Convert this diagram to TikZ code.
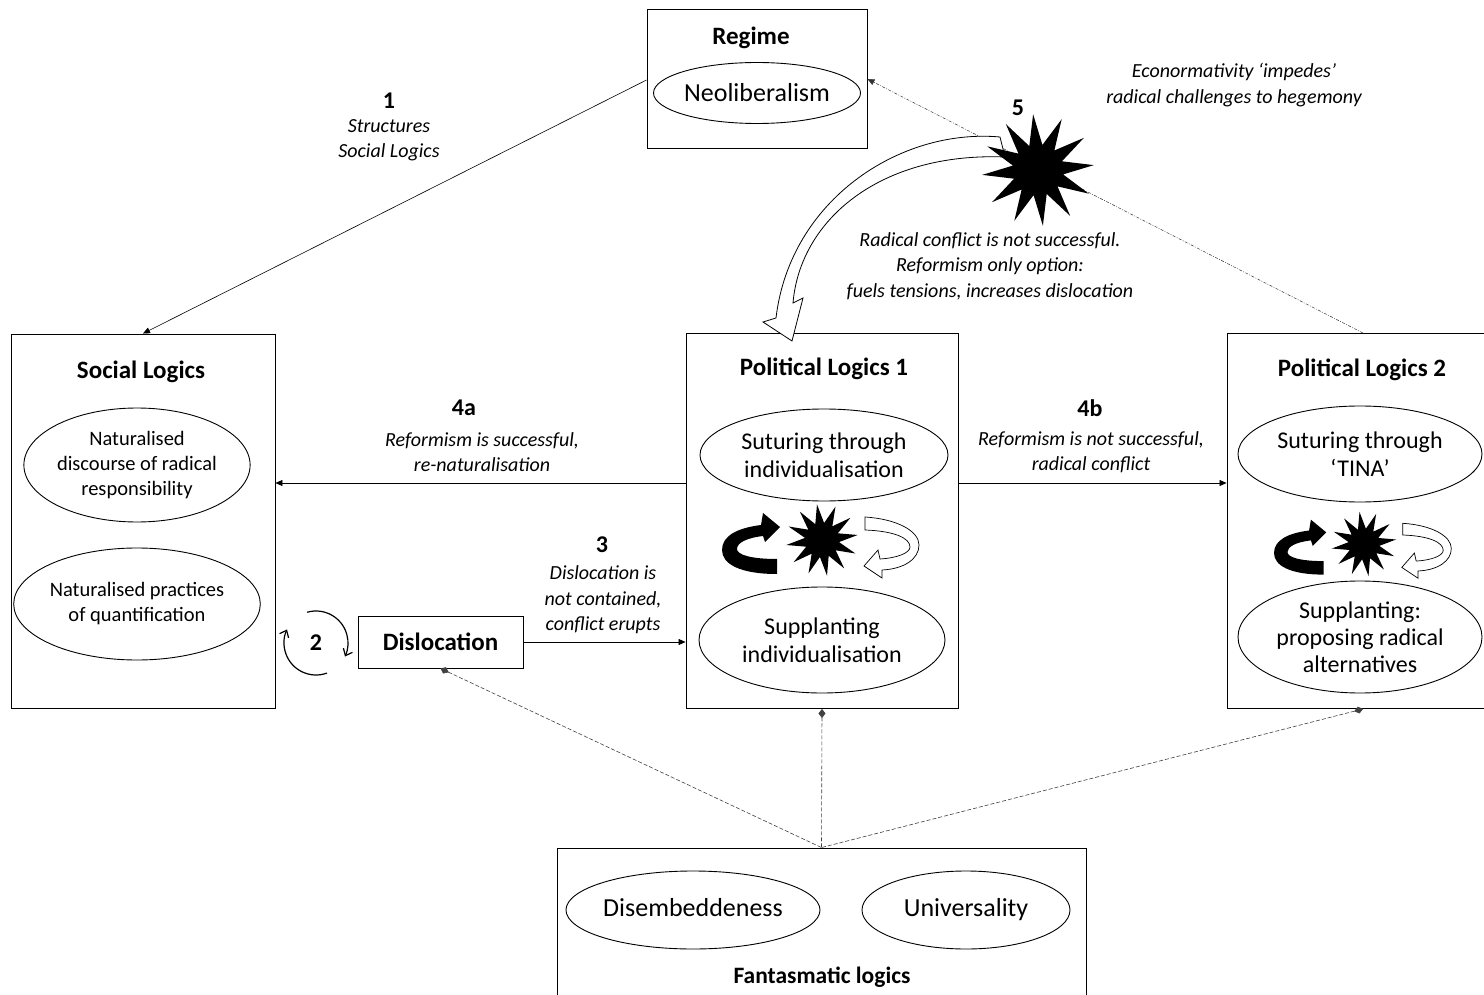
\documentclass[tikz,border=0pt]{standalone}
\usepackage{fontspec}
\setmainfont{Carlito}
\usetikzlibrary{shapes.geometric,arrows.meta}

\begin{document}
\begin{tikzpicture}[x=1pt,y=-1pt,>={Triangle[length=7pt,width=6pt]}]
        \tikzstyle{box}=[rectangle,draw=black,line width=0.9pt,inner sep=0pt]
        \tikzstyle{oval}=[ellipse,draw=black,line width=0.9pt,inner sep=0pt,align=center,font=\fontsize{24}{28}\selectfont]
        \tikzstyle{smalloval}=[oval,font=\fontsize{20.5}{25}\selectfont]
        \tikzstyle{fanoval}=[oval,font=\fontsize{26}{30}\selectfont,text height=18pt,text depth=6pt,minimum height=78pt]
        \tikzstyle{title}=[font=\bfseries\fontsize{25}{30}\selectfont]
        \tikzstyle{num}=[font=\bfseries\fontsize{24}{28}\selectfont]
        \tikzstyle{note}=[align=center,font=\itshape\fontsize{20}{25.5}\selectfont]
        \tikzstyle{edge}=[draw=black,line width=0.6pt,->]
        \tikzstyle{fanline}=[draw=black!75,line width=0.6pt,dash pattern=on 4pt off 2pt,{Diamond[length=9pt,width=7pt]}-]
        \tikzstyle{burst}=[star,star points=12,star point ratio=2.1,fill=black,inner sep=0pt]
        \tikzstyle{loopline}=[line width=1.2pt,-{Straight Barb[length=6pt,width=10pt]}]

        \clip (0,0) rectangle (1484,995);

        % boxes
        \node [box,minimum width=220pt,minimum height=139pt] (reg) at (757,79) {};
        \node [box,minimum width=264pt,minimum height=374pt] (social) at (143,521) {};
        \node [box,minimum width=272pt,minimum height=375pt] (pl1) at (822,521) {};
        \node [box,minimum width=272pt,minimum height=375pt] (pl2) at (1363,521) {};
        \node [box,minimum width=529pt,minimum height=164pt] (fant) at (821.5,930) {};
        \node [box,title,minimum width=165pt,minimum height=52pt] (disl) at (440.5,642) {Dislocation};

        % titles
        \node [title] (tReg) at (751,38) {Regime};
        \node [title] (tSoc) at (141,372) {Social Logics};
        \node [title] (tPl1) at (824,369) {Political Logics 1};
        \node [title] (tPl2) at (1362,370) {Political Logics 2};
        \node [title,font=\bfseries\fontsize{23.5}{28}\selectfont] (tFant) at (822,977) {Fantasmatic logics};

        % ellipses
        \node [oval,font=\fontsize{26}{30}\selectfont,minimum width=207pt,minimum height=61pt] (neo) at (757,93) {Neoliberalism};
        \node [smalloval,minimum width=220pt,minimum height=114pt] (sl1) at (137,465) {Naturalised\\discourse of radical\\responsibility};
        \node [smalloval,minimum width=220pt,minimum height=112pt] (sl2) at (137,604) {Naturalised practices\\of quantification};
        \node [oval,minimum width=248pt,minimum height=92pt] (pl1a) at (824,455) {Suturing through\\individualisation};
        \node [oval,minimum width=246pt,minimum height=106pt] (pl1b) at (822,640) {Supplanting\\individualisation};
        \node [oval,minimum width=244pt,minimum height=96pt] (pl2a) at (1360,454) {Suturing through\\`TINA'};
        \node [oval,font=\fontsize{24}{27}\selectfont,minimum width=244pt,minimum height=112pt] (pl2b) at (1360,637) {Supplanting:\\proposing radical\\alternatives};
        \node [fanoval,minimum width=240pt] (fa1) at (693,910) {Disembeddeness};
        \node [fanoval,minimum width=208pt] (fa2) at (966,910) {Universality};

        % cycle icons
        \foreach \cx/\cy/\s in {822/540/1, 1364/544/0.9}{
          \begin{scope}[shift={(\cx,\cy)},scale=\s]
            \fill[black] (-45,34) .. controls (-82,34) and (-100,24) .. (-100,10)
              .. controls (-100,-4) and (-85,-12) .. (-61,-15) -- (-59,-27) -- (-42,-13) -- (-57,2)
              -- (-59,-4) .. controls (-76,-2) and (-85,3) .. (-85,9)
              .. controls (-85,15) and (-70,19) .. (-45,19) -- cycle;
            \draw[fill=white,line width=0.7pt] (43,-23) .. controls (75,-21) and (97,-9) .. (97,5)
              .. controls (97,19) and (82,29) .. (60,30) -- (60,38) -- (42,26) -- (56,10)
              -- (58,19) .. controls (75,18) and (88,13) .. (88,7)
              .. controls (88,-2) and (72,-9) .. (43,-10) -- cycle;
            \node [burst,minimum size=\s*72pt,rotate=8] (ic\cx) at (0,0) {};
          \end{scope}
        }

        % connectors
        \path[edge] (reg.west |- 0,80) -- (social.north);
        \path[edge] ([yshift=38pt]pl1.west) -- ([yshift=38pt]social.east);
        \path[edge] ([yshift=38pt]pl1.east) -- ([yshift=38pt]pl2.west);
        \path[edge] (disl.east) -- (disl.east -| pl1.west);
        \path[draw=black!80,line width=0.5pt,dash pattern=on 3pt off 1.5pt on 0.8pt off 1.5pt,->] (pl2.north) -- (reg.east);

        \draw[fanline] (disl.south) -- (fant.north);
        \draw[fanline] (pl1.south) -- (fant.north);
        \draw[fanline] (pl2.south) -- (fant.north);

        % the 2 loop
        \coordinate (loop) at (316,643);
        \draw[loopline] ([shift={(70:32)}]loop) arc[start angle=70,end angle=205,radius=32];
        \draw[loopline] ([shift={(-106:32)}]loop) arc[start angle=-106,end angle=25,radius=32];

        % big curved arrow and burst 5
        \draw[fill=white,line width=0.8pt] (1000,137) .. controls (900,128) and (790,200) .. (776,318)
          -- (763,322) -- (792,341) -- (803,298) -- (793,303)
          .. controls (800,220) and (880,152) .. (1005,157) -- cycle;
        \node [burst,minimum size=112pt,star point ratio=2.2,rotate=5] (star5) at (1038,170) {};

        % numbers and notes
        \node [num] (n1) at (389,101) {1};
        \node [note] (lab1) at (389,140) {Structures\\Social Logics};
        \node [num] (n2) at (316,643) {2};
        \node [num] (n3) at (602,545) {3};
        \node [note] (lab3) at (603,600) {Dislocation is\\not contained,\\conflict erupts};
        \node [num] (n4a) at (464,408) {4a};
        \node [note] (lab4a) at (482,452) {Reformism is successful,\\re-naturalisation};
        \node [num] (n4b) at (1090,408) {4b};
        \node [note] (lab4b) at (1091,452) {Reformism is not successful,\\radical conflict};
        \node [num] (n5) at (1018,108) {5};
        \node [note] (lab5) at (1234,85) {Econormativity `impedes'\\radical challenges to hegemony};
        \node [note] (labR) at (990,266) {Radical conflict is not successful.\\Reformism only option:\\fuels tensions, increases dislocation};
\end{tikzpicture}
\end{document}
